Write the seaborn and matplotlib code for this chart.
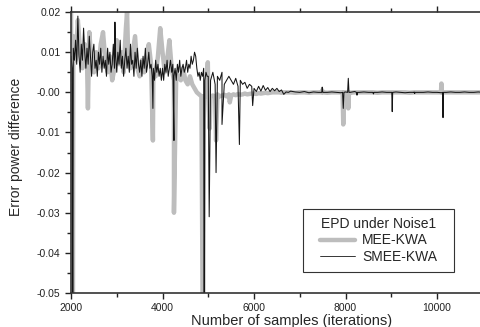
import numpy as np
import pandas as pd
import matplotlib
matplotlib.use("Agg")
import matplotlib.pyplot as plt
import seaborn as sns
from matplotlib.lines import Line2D
from matplotlib.patches import Rectangle
from matplotlib.ticker import MultipleLocator, FormatStrFormatter

# --- data (EPD values in units of 1e-3) ---
# MEE-KWA sampled every 50 iterations up to 6750, then every 100
mee_x_a = list(range(2000, 6800, 50))
mee_x_b = list(range(6800, 11001, 100))
mee_a = [
    20, 14, 8, 18, 10, 6, 12, 8, 15, 7,
    5, 10, 6, 12, 15, 8, 5, 9, 3, 6,
    13, 7, 10, 5, 16, 9, 6, 10, 14, 6,
    4, 8, 5, 9, 12, 7, 5, 4, 9, 16,
    10, 5, 8, 13, 6, 3, 5, 4, 3, 6,
    3, 2, 4, 2, 1, 0, -0.5, -1, -1, -1,
    -1, -1, -0.8, -1, -0.5, -1, -0.8, -0.6, -1, -0.5,
    -0.8, -0.5, -0.7, -0.4, -0.6, -0.5, -0.3, -0.5, -0.4, -0.3,
    -0.3, -0.4, -0.2, -0.3, -0.2, -0.1, -0.2, -0.1, 0, 0,
    0, 0, -0.1, 0, 0, 0,
]
mee_b = [
    0, -0.1, 0, 0, -0.1, 0, 0, 0, -0.1, 0,
    0, 0, 0, -0.1, 0, 0, 0, 0, 0, -0.1,
    0, 0, 0, 0, 0, 0, -0.1, 0, 0, 0,
    0, 0, 0, 0, 0, 0, 0, 0, 0, 0,
    0, 0, 0,
]

# SMEE-KWA sampled every 25 iterations up to 4975, every 50 up to 6750, then every 100
smee_x_a = list(range(2000, 5000, 25))
smee_x_b = list(range(5000, 6800, 50))
smee_x_c = list(range(6800, 11001, 100))
smee_a = [
    9, 6, 11, 8, 13, 7, 19, 9, 5, 12,
    8, 16, 10, 6, 11, 7, 14, 9, 4, 10,
    12, 6, 8, 4, 10, 7, 11, 5, 9, 6,
    8, 4, 11, 7, 10, 5, 7, 12, 6, 9,
    5, 10, 7, 13, 6, 9, 4, 8, 11, 6,
    9, 5, 12, 7, 8, 4, 10, 6, 11, 7,
    5, 8, 4, 9, 6, 11, 5, 7, 10, 6,
    7, 4, 6, 3, 8, 5, 7, 4, 6, 3,
    6, 3, 7, 5, 8, 4, 6, 8, 5, 7,
    4, 6, 3, 7, 5, 8, 4, 6, 7, 5,
    6, 8, 5, 7, 6, 9, 7, 8, 10, 9,
    6, 4, 5, 3, 5, 4, 6, 3, 5, 4,
]
smee_b = [
    4, 3, 5, 2, 4, 3, 5, 2, 3, 4,
    3, 2, 3.5, 1.5, 3, 2, 2.5, 1, 2, 1.5,
    1, 0.2, 1.5, 0.3, 1.7, 0.5, 1.2, 0.2, 1.0, 0.4,
    1.0, 0.2, 0.6, -0.5, 0.1, 0,
]
smee_c = [
    0.3, 0.1, 0, 0.2, -0.1, 0.1, 0, 0.2, 0, 0.1,
    0, -0.1, 0.1, 0, 0.2, 0, 0.1, 0, -0.1, 0,
    0.1, 0, 0, 0.1, 0, -0.1, 0, 0.1, 0, 0,
    0.1, 0, 0, -0.1, 0, 0.1, 0, 0, 0.1, 0,
    0, 0.1, 0,
]

# isolated spikes (iteration, value); late ones carry their own base points
mee_spike_x = [2040, 2370, 3225, 3790, 4250, 4890, 4990, 5030, 5170, 5470,
               7480, 7490, 7505, 7935, 7950, 7965, 8045, 8060, 8075, 10085, 10095, 10110]
mee_spike_y = [-80, -4, 20, -12, -30, -80, 7.5, -9, -12, -2.5,
               0, 0.5, 0, 0, -8, 0, 0, -4, 0, 0, 2.2, 0]
smee_spike_x = [2040, 2960, 3790, 4250, 4910, 5020, 5170, 5300, 5680, 5970,
                7480, 7490, 7505, 7935, 7950, 7965, 8045, 8060, 8075,
                8240, 8250, 8260, 8590, 8610, 8620, 9010, 9020, 9030,
                9490, 9510, 9520, 10120, 10130, 10140]
smee_spike_y = [-80, 17.5, -4, -12, -80, -31, -20, -8, -13, -3.3,
                0, 1.3, 0, 0, -4, 0, 0, 3.5, 0,
                0, -0.7, 0, 0, -0.4, 0, 0, -4.8, 0,
                0, -0.3, 0, 0, -6.3, 0]


def build(name, xs, ys):
    d = pd.DataFrame({"iter": xs, "epd": ys})
    d["epd"] = d["epd"] * 1e-3
    d["method"] = name
    return d.sort_values("iter")


df_mee = build("MEE-KWA", mee_x_a + mee_x_b + mee_spike_x, mee_a + mee_b + mee_spike_y)
df_smee = build("SMEE-KWA", smee_x_a + smee_x_b + smee_x_c + smee_spike_x,
                smee_a + smee_b + smee_c + smee_spike_y)

# --- plot ---
sns.set_theme(style="ticks")
plt.rcParams['font.family'] = ['Liberation Sans', 'DejaVu Sans']
plt.rcParams['axes.unicode_minus'] = False

gray = "#bdbdbd"
dark = "#151515"

fig = plt.figure(figsize=(4.81, 3.27), dpi=100)
ax = fig.add_axes([0.1476, 0.104, 0.8524, 0.859])

sns.lineplot(data=df_mee, x="iter", y="epd", ax=ax, color=gray, lw=3.2,
             estimator=None, sort=False, legend=False)
sns.lineplot(data=df_smee, x="iter", y="epd", ax=ax, color=dark, lw=0.75,
             estimator=None, sort=False, legend=False)

ax.set_xlim(2000, 10960)
ax.set_ylim(-0.05, 0.02)
ax.xaxis.set_major_locator(MultipleLocator(2000))
ax.xaxis.set_minor_locator(MultipleLocator(1000))
ax.yaxis.set_major_locator(MultipleLocator(0.01))
ax.yaxis.set_minor_locator(MultipleLocator(0.005))
ax.yaxis.set_major_formatter(FormatStrFormatter('%.2f'))

ax.tick_params(which='both', direction='out', top=True, labeltop=False,
               labelsize=7.5, colors='#222222', width=1)
ax.tick_params(which='major', length=4, pad=3.5)
ax.tick_params(which='minor', length=3)
ax.spines['right'].set_visible(False)
for s in ['left', 'bottom', 'top']:
    ax.spines[s].set_linewidth(1.2)
    ax.spines[s].set_color('#333333')

ax.set_xlabel("Number of samples (iterations)", fontsize=10.5)
ax.xaxis.set_label_coords(0.537, -0.075)
ax.set_ylabel("Error power difference", fontsize=10)
ax.yaxis.set_label_coords(-0.117, 0.52)

# legend with a hand-placed frame (wider side padding than matplotlib's)
ax.add_patch(Rectangle((0.566, 0.075), 0.368, 0.224, transform=ax.transAxes,
                       facecolor='white', edgecolor='#333333', lw=0.8, zorder=5))
handles = [Line2D([], [], color=gray, lw=3.2), Line2D([], [], color=dark, lw=0.6)]
leg = ax.legend(handles, ["MEE-KWA", "SMEE-KWA"], title="EPD under Noise1",
                loc='center', bbox_to_anchor=(0.75, 0.187), fontsize=10,
                title_fontsize=10, frameon=False, handlelength=2.5,
                handletextpad=0.5, borderpad=0, labelspacing=0.15,
                borderaxespad=0)
leg.set_zorder(6)

fig.savefig("out.png", dpi=100)
